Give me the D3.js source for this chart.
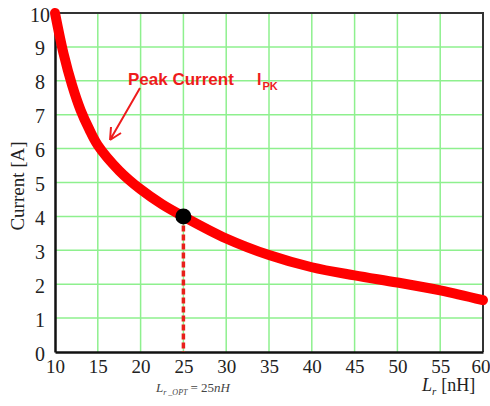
<!DOCTYPE html>
<html>
<head>
<meta charset="utf-8">
<script src="https://cdn.jsdelivr.net/npm/d3@7"></script>
<style>
  html, body { margin: 0; padding: 0; background: #fff; }
  svg { display: block; }
</style>
</head>
<body>
<div id="chart"></div>
<script>
// données
const inductance = [10, 11, 12, 13, 14, 15, 17.5, 20, 22.5, 25, 30, 35, 40, 45, 50, 55, 60];
const peakCurrent = [10, 8.8, 7.87, 7.13, 6.57, 6.1, 5.35, 4.8, 4.36, 4.0, 3.35, 2.86, 2.5, 2.26, 2.05, 1.82, 1.53];
const xTicks = [10, 15, 20, 25, 30, 35, 40, 45, 50, 55, 60];
const yTicks = [0, 1, 2, 3, 4, 5, 6, 7, 8, 9, 10];
const optimum = { x: 25, y: 4.0 };

const width = 490, height = 406;
const margin = { top: 13, right: 7, bottom: 54, left: 55 };

const svg = d3.select('#chart')
    .append('svg')
    .attr('width', width)
    .attr('height', height);

const x = d3.scaleLinear().domain([10, 60]).range([margin.left, width - margin.right]);
const y = d3.scaleLinear().domain([0, 10]).range([height - margin.bottom, margin.top]);

const serif = '"Liberation Serif", "Times New Roman", serif';
const sans = '"Liberation Sans", Arial, sans-serif';

// grille verte
svg.append('g')
    .selectAll('line')
    .data(xTicks.slice(1, -1))
    .enter()
    .append('line')
    .attr('x1', d => x(d)).attr('x2', d => x(d))
    .attr('y1', y(10)).attr('y2', y(0))
    .attr('stroke', '#8ef08e')
    .attr('stroke-width', 1.5);

svg.append('g')
    .selectAll('line')
    .data(yTicks.slice(1, -1))
    .enter()
    .append('line')
    .attr('x1', x(10)).attr('x2', x(60))
    .attr('y1', d => y(d)).attr('y2', d => y(d))
    .attr('stroke', '#8ef08e')
    .attr('stroke-width', 1.5);

// cadre haut et droite
svg.append('path')
    .attr('d', `M${x(10)},${y(10)}H${x(60)}V${y(0)}`)
    .attr('fill', 'none')
    .attr('stroke', '#333')
    .attr('stroke-width', 2);

// axes gauche et bas
const xAxis = d3.axisBottom(x).tickValues(xTicks).tickSize(0).tickPadding(7);
const yAxis = d3.axisLeft(y).tickValues(yTicks).tickSize(0).tickPadding(9);

const gx = svg.append('g')
    .attr('transform', `translate(0,${y(0)})`)
    .call(xAxis)
    .attr('font-family', serif)
    .attr('font-size', 19);
gx.select('.domain').attr('stroke', '#111').attr('stroke-width', 2.5);
gx.selectAll('text')
    .style('font-family', serif)
    .style('font-size', '19px')
    .attr('fill', '#222')
    .attr('dy', '0.75em');
// le dernier libellé touche le bord droit
gx.selectAll('.tick')
    .filter(d => d === 60)
    .select('text')
    .attr('text-anchor', 'end')
    .attr('x', 7);

const gy = svg.append('g')
    .attr('transform', `translate(${x(10)},0)`)
    .call(yAxis)
    .attr('font-family', serif)
    .attr('font-size', 20);
gy.select('.domain').attr('stroke', '#111').attr('stroke-width', 2.5);
gy.selectAll('text')
    .style('font-family', serif)
    .style('font-size', '20px')
    .attr('fill', '#222')
    .attr('text-anchor', 'middle')
    .attr('x', -15)
    .attr('dy', '0.4em');

// titre axe Y
svg.append('text')
    .attr('transform', `translate(24,186) rotate(-90)`)
    .attr('text-anchor', 'middle')
    .style('font-family', serif)
    .style('font-size', '19px')
    .attr('fill', '#222')
    .text('Current [A]');

// titre axe X
const xl = svg.append('text')
    .attr('x', 422)
    .attr('y', 391)
    .style('font-family', serif)
    .style('font-size', '18px')
    .attr('fill', '#222');
xl.append('tspan').attr('font-style', 'italic').text('L');
xl.append('tspan').attr('font-style', 'italic').style('font-size', '11px').attr('dy', 4).text('r');
xl.append('tspan').attr('dy', -4).attr('dx', 5).text('[nH]');

// ligne pointillée verticale
svg.append('line')
    .attr('x1', x(optimum.x)).attr('x2', x(optimum.x))
    .attr('y1', y(optimum.y)).attr('y2', y(0))
    .attr('stroke', '#e8201a')
    .attr('stroke-width', 3.5)
    .attr('stroke-dasharray', '6,3');

// courbe du courant crête
const line = d3.line()
    .x((d, i) => x(inductance[i]))
    .y(d => y(d))
    .curve(d3.curveCatmullRom.alpha(0.5));

svg.append('path')
    .datum(peakCurrent)
    .attr('d', line)
    .attr('fill', 'none')
    .attr('stroke', '#ff0000')
    .attr('stroke-width', 10)
    .attr('stroke-linecap', 'round');

// point optimal
svg.append('circle')
    .attr('cx', x(optimum.x))
    .attr('cy', y(optimum.y))
    .attr('r', 8)
    .attr('fill', '#000');

// annotation
svg.append('text')
    .attr('x', 128)
    .attr('y', 85)
    .style('font-family', sans)
    .attr('font-weight', 'bold')
    .style('font-size', '17px')
    .attr('fill', '#ee1c1c')
    .text('Peak Current');

const ipk = svg.append('text')
    .attr('x', 257)
    .attr('y', 85)
    .style('font-family', sans)
    .attr('font-weight', 'bold')
    .style('font-size', '16px')
    .attr('fill', '#ee1c1c');
ipk.append('tspan').text('I');
ipk.append('tspan').style('font-size', '11px').attr('dy', 5).attr('dx', 1).text('PK');

// flèche
svg.append('path')
    .attr('d', 'M140,88L110,140M110,140L111,127M110,140L121,133')
    .attr('fill', 'none')
    .attr('stroke', '#ee1c1c')
    .attr('stroke-width', 2);

// L_r_OPT = 25nH
const opt = svg.append('text')
    .attr('x', 156)
    .attr('y', 392)
    .style('font-family', serif)
    .style('font-size', '13px')
    .attr('fill', '#444');
opt.append('tspan').attr('font-style', 'italic').text('L');
opt.append('tspan').attr('font-style', 'italic').style('font-size', '8px').attr('dy', 3).text('r _OPT');
opt.append('tspan').attr('dy', -3).attr('dx', 3).text('= 25');
opt.append('tspan').attr('font-style', 'italic').text('nH');
</script>
</body>
</html>
